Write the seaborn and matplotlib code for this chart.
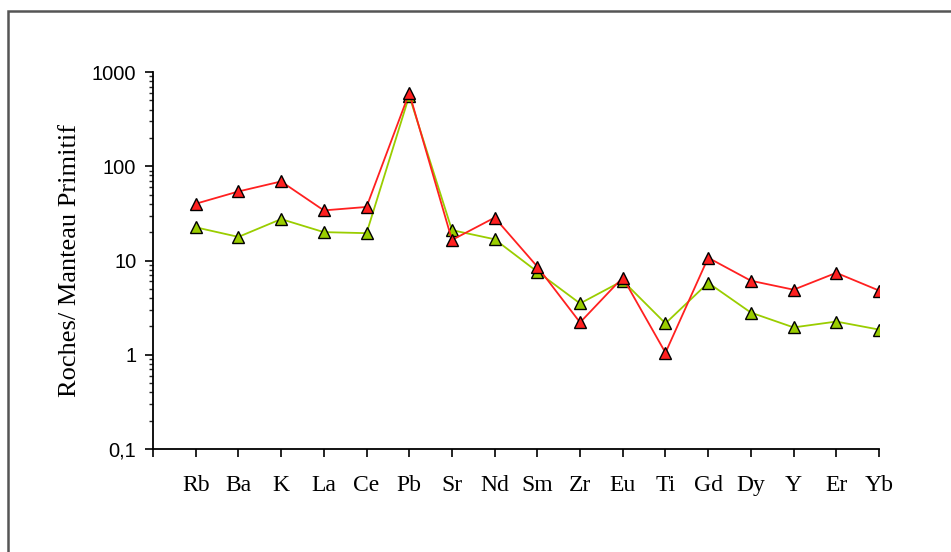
import numpy as np
import pandas as pd
import matplotlib
matplotlib.use("Agg")
import matplotlib.pyplot as plt
import matplotlib.ticker as mticker
from matplotlib.patches import Rectangle
import seaborn as sns

# Spider diagram values, normalised to primitive mantle
elements = ['Rb', 'Ba', 'K', 'La', 'Ce', 'Pb', 'Sr', 'Nd', 'Sm', 'Zr',
            'Eu', 'Ti', 'Gd', 'Dy', 'Y', 'Er', 'Yb']
red_values = [40, 54, 69, 34, 37, 600, 16.5, 28.5, 8.6, 2.2,
              6.6, 1.05, 10.7, 6.1, 4.9, 7.4, 4.8]
green_values = [22.5, 17.8, 27.5, 20, 19.5, 560, 21, 16.8, 7.6, 3.5,
                6.1, 2.15, 5.8, 2.8, 1.95, 2.25, 1.85]

sns.set_theme(style="white")

df = pd.concat([
    pd.DataFrame({'pos': np.arange(1, len(elements) + 1), 'val': green_values, 'serie': 'B'}),
    pd.DataFrame({'pos': np.arange(1, len(elements) + 1), 'val': red_values, 'serie': 'A'}),
])

fig = plt.figure(figsize=(9.51, 5.52), dpi=100)
ax = fig.add_axes([153 / 951, 1 - 449 / 552, (879 - 153) / 951, (449 - 72) / 552])

sns.lineplot(data=df, x='pos', y='val', hue='serie', hue_order=['B', 'A'],
             palette={'B': '#9ACD00', 'A': '#FF2020'}, marker='^', markersize=9,
             markeredgecolor='black', markeredgewidth=1.0, linewidth=1.3,
             legend=False, ax=ax)

ax.set_yscale('log')
ax.set_ylim(0.1, 1000)
ax.set_xlim(0, len(elements))
ax.yaxis.set_major_locator(mticker.LogLocator(base=10, numticks=10))
ax.yaxis.set_minor_locator(mticker.LogLocator(base=10, subs=np.arange(2, 10), numticks=20))
ax.yaxis.set_major_formatter(mticker.FuncFormatter(lambda v, p: f"{v:g}".replace('.', ',')))
ax.yaxis.set_minor_formatter(mticker.NullFormatter())

ax.set_xticks(np.arange(0, len(elements) + 1))
ax.set_xticklabels([''] + elements)

for s in ['top', 'right']:
    ax.spines[s].set_visible(False)
for s in ['left', 'bottom']:
    ax.spines[s].set_color('black')
    ax.spines[s].set_linewidth(1.3)

ax.tick_params(axis='y', which='major', direction='out', length=6, width=1.2,
               left=True, labelsize=14.5, pad=6, colors='black')
ax.tick_params(axis='y', which='minor', direction='out', length=3, width=1.0, left=True)
ax.tick_params(axis='x', which='major', direction='out', length=6, width=1.2,
               bottom=True, pad=13, colors='black')
for t in ax.get_yticklabels():
    t.set_fontfamily('Liberation Sans')
for t in ax.get_xticklabels():
    t.set_fontfamily('Liberation Serif')
    t.set_fontsize(17)

ax.set_xlabel('')
ax.set_ylabel('Roches/ Manteau Primitif', fontfamily='Liberation Serif', fontsize=19,
              color='black', labelpad=8)

# outer frame like the original screenshot
fig.patches.append(Rectangle((8 / 951, -0.1), 1.2, 1 - 11 / 552 + 0.1,
                             transform=fig.transFigure, fill=False,
                             edgecolor='#555555', linewidth=1.8))

fig.savefig('out.png', dpi=100)
